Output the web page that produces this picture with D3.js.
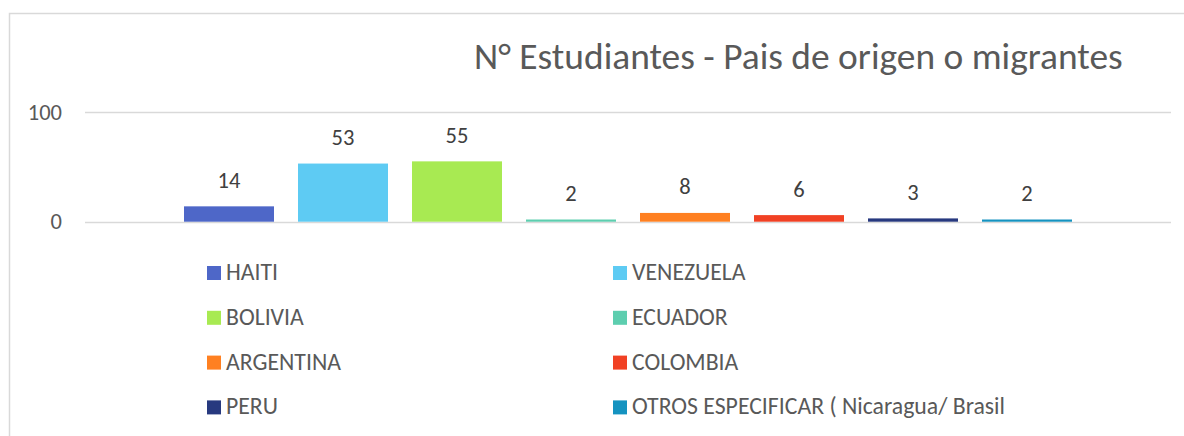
<!DOCTYPE html>
<html>
  <head>
  <title>N° Estudiantes - Pais de origen o migrantes</title>
  <script src="https://cdn.jsdelivr.net/npm/d3@7"></script>
  <style type="text/css">
    body { margin: 0; background: #fff; }
    text { font-family: Carlito, Calibri, "Open Sans", sans-serif; }
  </style>
  </head>
  <body>
  </body>
  <script type="text/javascript">
    // data
    var countries = ["HAITI", "VENEZUELA", "BOLIVIA", "ECUADOR", "ARGENTINA", "COLOMBIA", "PERU", "OTROS ESPECIFICAR ( Nicaragua/ Brasil"];
    var students = [14, 53, 55, 2, 8, 6, 3, 2];
    var colors = ["#4e67c8", "#5ecbf3", "#a8ea52", "#5dceaf", "#ff8021", "#f14124", "#27397f", "#1593c0"];
    var yTicks = [0, 100];
    var title = "N° Estudiantes - Pais de origen o migrantes";

    var w = 1184, h = 436;

    var svg = d3.select("body").append("svg")
      .attr("width", w)
      .attr("height", h);

    // frame (only top/left visible in the crop)
    svg.append("rect")
      .attr("x", 9.5).attr("y", 13.5)
      .attr("width", w + 20).attr("height", h + 20)
      .attr("fill", "none")
      .attr("stroke", "#d9d9d9")
      .attr("stroke-width", 1.5);

    // fit a text element's font size to a target width
    function fit(sel, width) {
      var node = sel.node();
      var fs = parseFloat(sel.attr("font-size"));
      var len = node.getComputedTextLength();
      sel.attr("font-size", fs * width / len);
    }

    var t = svg.append("text")
      .attr("x", 474).attr("y", 69)
      .attr("font-size", 32)
      .attr("fill", "#595959")
      .text(title);
    fit(t, 649);

    var x = d3.scaleBand()
      .domain(countries)
      .range([172, 1084])
      .paddingInner(24 / 114)
      .paddingOuter(12 / 114);

    var y = d3.scaleLinear()
      .domain([0, 100])
      .range([221.7, 112]);

    // gridlines
    svg.selectAll("line.grid")
      .data(yTicks)
      .enter()
      .append("line")
      .attr("class", "grid")
      .attr("x1", 85).attr("x2", 1171)
      .attr("y1", function(d) { return Math.round(y(d)) + 0.5; })
      .attr("y2", function(d) { return Math.round(y(d)) + 0.5; })
      .attr("stroke", "#d9d9d9")
      .attr("stroke-width", 1.5);

    svg.selectAll("text.tick")
      .data(yTicks)
      .enter()
      .append("text")
      .attr("class", "tick")
      .attr("x", 62)
      .attr("y", function(d) { return y(d) + 7.5; })
      .attr("text-anchor", "end")
      .attr("font-size", 22.5)
      .attr("fill", "#595959")
      .text(function(d) { return d; });

    // bars
    svg.selectAll("rect.bar")
      .data(students)
      .enter()
      .append("rect")
      .attr("class", "bar")
      .attr("x", function(d, i) { return x(countries[i]); })
      .attr("width", x.bandwidth())
      .attr("y", function(d) { return y(d); })
      .attr("height", function(d) { return y(0) - y(d); })
      .attr("fill", function(d, i) { return colors[i]; });

    svg.selectAll("text.val")
      .data(students)
      .enter()
      .append("text")
      .attr("class", "val")
      .attr("x", function(d, i) { return x(countries[i]) + x.bandwidth() / 2; })
      .attr("y", function(d) { return y(d) - 18.5; })
      .attr("text-anchor", "middle")
      .attr("font-size", 22.5)
      .attr("fill", "#404040")
      .text(function(d) { return d; });

    // legend, two columns
    var leg = svg.selectAll("g.leg")
      .data(countries)
      .enter()
      .append("g")
      .attr("class", "leg")
      .attr("transform", function(d, i) {
        var lx = i % 2 === 0 ? 207 : 613;
        var ly = 273 + Math.floor(i / 2) * 44.8;
        return "translate(" + lx + "," + ly + ")";
      });

    leg.append("rect")
      .attr("x", 0).attr("y", -7)
      .attr("width", 14).attr("height", 14)
      .attr("fill", function(d, i) { return colors[i]; });

    leg.append("text")
      .attr("x", 19).attr("y", 7)
      .attr("font-size", 20)
      .attr("fill", "#595959")
      .text(function(d) { return d; });

    // scale legend font so ARGENTINA spans about 115px
    var ref = leg.filter(function(d) { return d === "ARGENTINA"; }).select("text");
    var fs = 20 * 115 / ref.node().getComputedTextLength();
    leg.selectAll("text").attr("font-size", fs);
  </script>
</html>
